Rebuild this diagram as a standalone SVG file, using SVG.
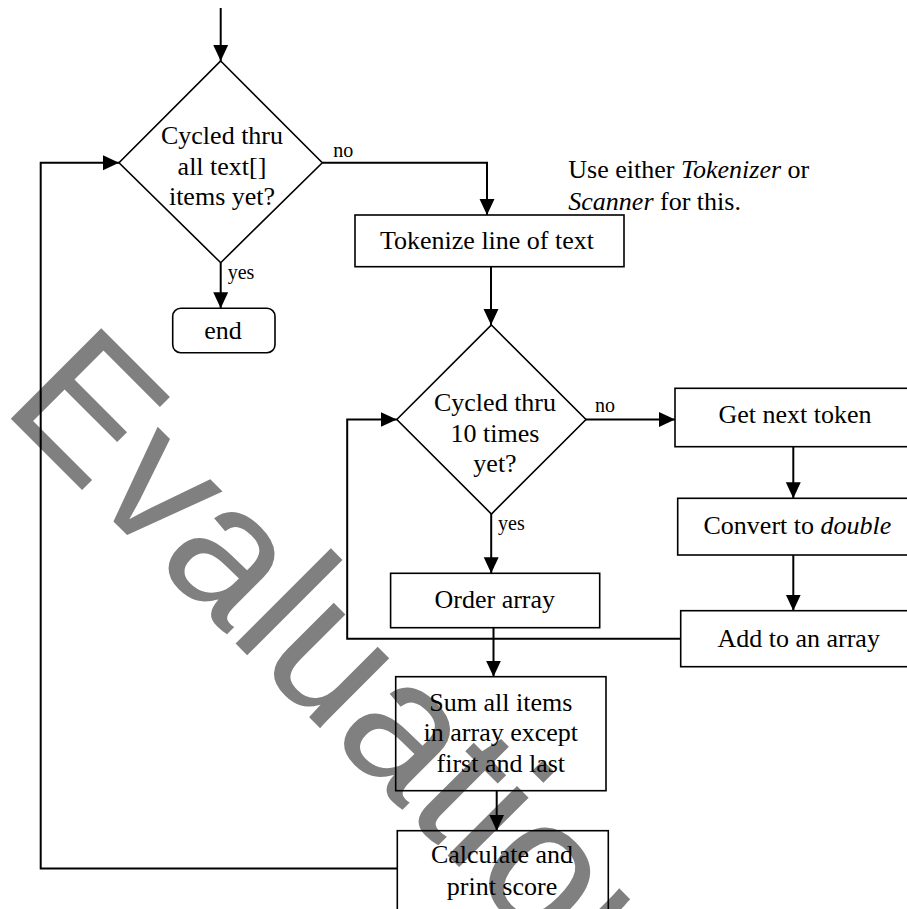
<svg xmlns="http://www.w3.org/2000/svg" width="907" height="909" viewBox="0 0 907 909">
<style>
.shape{fill:none;stroke:#000;stroke-width:1.6}
.conn{fill:none;stroke:#000;stroke-width:2}
.t{font-family:"Liberation Serif","Times New Roman",serif;font-size:26px;fill:#000}
.c{text-anchor:middle}
.lbl{font-family:"Liberation Serif","Times New Roman",serif;font-size:20px;fill:#000}
.wm{font-family:"Liberation Sans",Arial,sans-serif;font-size:186px;fill:#808080}
</style>
<defs>
<marker id="arr" markerUnits="userSpaceOnUse" markerWidth="16" markerHeight="16" viewBox="0 0 15 14" refX="15" refY="7" orient="auto">
<path d="M0,0 L15,7 L0,14 Z" fill="#000"/>
</marker>
</defs>
<rect width="907" height="909" fill="#fff"/>
<text class="wm" transform="translate(0,408) rotate(45)">Evaluation</text>

<g id="connectors">
<path class="conn" d="M220.7,8 V61" marker-end="url(#arr)"/>
<path class="conn" d="M322.3,162.7 H487 V215" marker-end="url(#arr)"/>
<path class="conn" d="M220.7,262.7 V308.3" marker-end="url(#arr)"/>
<path class="conn" d="M491,266.7 V325" marker-end="url(#arr)"/>
<path class="conn" d="M586,419.5 H675" marker-end="url(#arr)"/>
<path class="conn" d="M491.2,514 V573.3" marker-end="url(#arr)"/>
<path class="conn" d="M793.3,446.7 V498.3" marker-end="url(#arr)"/>
<path class="conn" d="M793.3,555 V610.7" marker-end="url(#arr)"/>
<path class="conn" d="M680.7,638.7 H347.2 V419.5 H396.8" marker-end="url(#arr)"/>
<path class="conn" d="M493.5,627.7 V676.7" marker-end="url(#arr)"/>
<path class="conn" d="M496.7,790.7 V830.7" marker-end="url(#arr)"/>
<path class="conn" d="M397.3,868.5 H40.7 V162.7 H119" marker-end="url(#arr)"/>
<text class="lbl" x="333.3" y="156.7">no</text>
<text class="lbl" x="227.7" y="279.3">yes</text>
<text class="lbl" x="595" y="412">no</text>
<text class="lbl" x="498" y="530">yes</text>
</g>

<g id="decision-text-items">
<polygon class="shape" points="220.7,61 322.3,162.7 220.7,262.7 119,162.7"/>
<text class="t c" x="222" y="144">Cycled thru</text>
<text class="t c" x="222" y="175">all text[]</text>
<text class="t c" x="222" y="205">items yet?</text>
</g>

<g id="end">
<rect class="shape" x="172.7" y="308.3" width="102.3" height="44.4" rx="8"/>
<text class="t c" x="223" y="339.3">end</text>
</g>

<g id="tokenize">
<rect class="shape" x="355" y="215" width="269" height="51.7"/>
<text class="t c" x="487" y="249.3">Tokenize line of text</text>
</g>

<g id="note">
<text class="t" x="568.3" y="178.3">Use either <tspan font-style="italic">Tokenizer</tspan> or</text>
<text class="t" x="568.3" y="210"><tspan font-style="italic">Scanner</tspan> for this.</text>
</g>

<g id="decision-10-times">
<polygon class="shape" points="491.4,325 586,419.5 491.4,514 396.8,419.5"/>
<text class="t c" x="495" y="410.7">Cycled thru</text>
<text class="t c" x="495" y="441.7">10 times</text>
<text class="t c" x="495" y="471.7">yet?</text>
</g>

<g id="get-next-token">
<rect class="shape" x="675" y="388.3" width="245" height="58.4"/>
<text class="t c" x="795" y="423.3">Get next token</text>
</g>

<g id="convert">
<rect class="shape" x="677.7" y="498.3" width="242" height="56.7"/>
<text class="t c" x="797.4" y="534">Convert to <tspan font-style="italic">double</tspan></text>
</g>

<g id="add">
<rect class="shape" x="680.7" y="610.7" width="240" height="56"/>
<text class="t c" x="798.7" y="646.7">Add to an array</text>
</g>

<g id="order">
<rect class="shape" x="390.6" y="573.3" width="209.1" height="54.4"/>
<text class="t c" x="494.8" y="608.3">Order array</text>
</g>

<g id="sum">
<rect class="shape" x="395.7" y="676.7" width="210.3" height="114"/>
<text class="t c" x="500.8" y="710.7">Sum all items</text>
<text class="t c" x="500.8" y="740.7">in array except</text>
<text class="t c" x="500.8" y="771.7">first and last</text>
</g>

<g id="calculate">
<rect class="shape" x="397.3" y="830.7" width="211" height="100"/>
<text class="t c" x="502" y="863.3">Calculate and</text>
<text class="t c" x="502" y="895">print score</text>
</g>
</svg>
